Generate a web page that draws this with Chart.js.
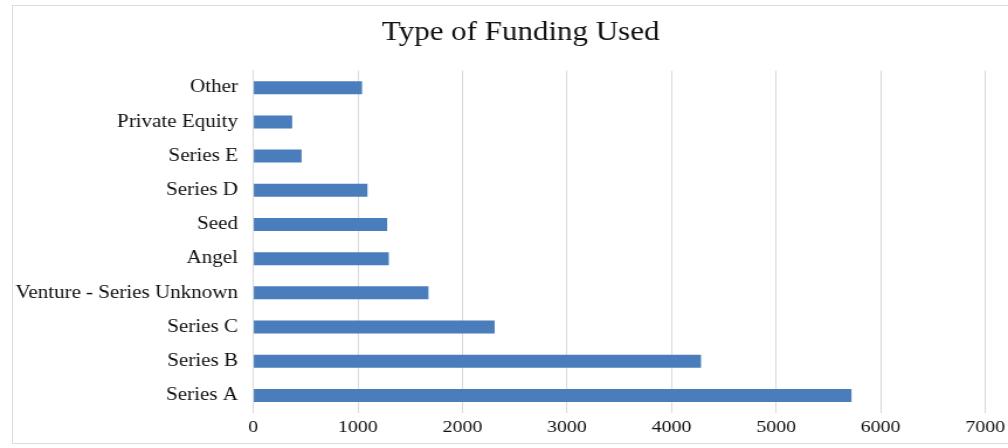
<!doctype html>
<html lang="en">
<head>
  <meta charset="utf-8" />
  <title>Type of Funding Used</title>
  <script src="https://cdn.jsdelivr.net/npm/chart.js"></script>
  <style>
    html,body{margin:0;padding:0;background:#fff;width:1008px;height:448px;overflow:hidden}
    .frame{position:absolute;left:12px;top:5px;width:1100px;height:439px;border:1px solid #dcdcdc;border-right:0;box-sizing:border-box}
    /* the reference is a horizontally stretched screenshot, so draw narrow and stretch */
    .wrap{position:absolute;left:0;top:0;width:862px;height:448px;transform:scaleX(1.1694);transform-origin:0 0}
  </style>
</head>
<body>
  <div class="frame"></div>
  <div class="wrap"><canvas id="fundingChart"></canvas></div>

  <script>
    const categories = ['Other','Private Equity','Series E','Series D','Seed','Angel',
      'Venture - Series Unknown','Series C','Series B','Series A'];
    const counts = [1040,372,462,1092,1280,1296,1675,2308,4282,5721];
    const xTicks = [0,1000,2000,3000,4000,5000,6000,7000];

    const serif = '"Liberation Serif","Times New Roman",serif';

    // title sits a little right of the canvas centre in the reference
    const titleNudge = {
      id:'titleNudge',
      afterLayout(chart){
        if(chart.titleBlock) chart.titleBlock.left += 48;
      }
    };

    const ctx = document.getElementById('fundingChart').getContext('2d');
    new Chart(ctx, {
      type:'bar',
      data:{
        labels:categories,
        datasets:[{
          data:counts,
          backgroundColor:'#4a7dbb',
          categoryPercentage:1,
          barPercentage:0.38
        }]
      },
      options:{
        indexAxis:'y',
        responsive:true,maintainAspectRatio:false,animation:false,
        layout:{padding:{left:0,right:19.5,top:0,bottom:0}},
        plugins:{
          legend:{display:false},
          tooltip:{enabled:false},
          title:{
            display:true,text:'Type of Funding Used',color:'#111',
            font:{family:serif,size:26.5,weight:'normal',lineHeight:1.2},
            padding:{top:17.4,bottom:21.4}
          }
        },
        scales:{
          x:{
            min:0,max:7000,
            afterBuildTicks:axis=>{axis.ticks = xTicks.map(v=>({value:v}));},
            afterFit:axis=>{axis.height = 35.5; axis.paddingLeft = 0; axis.paddingRight = 0;},
            grid:{color:'#d9d9d9',lineWidth:1,drawTicks:false},
            border:{display:false},
            ticks:{color:'#111',padding:5,maxRotation:0,callback:v=>String(v),font:{family:serif,size:17}}
          },
          y:{
            afterFit:axis=>{axis.width = 216.6;},
            grid:{display:false,drawTicks:false},
            border:{display:true,color:'#d9d9d9',width:1},
            ticks:{color:'#111',padding:13,autoSkip:false,font:{family:serif,size:18}}
          }
        }
      },
      plugins:[titleNudge]
    });
  </script>
</body>
</html>
